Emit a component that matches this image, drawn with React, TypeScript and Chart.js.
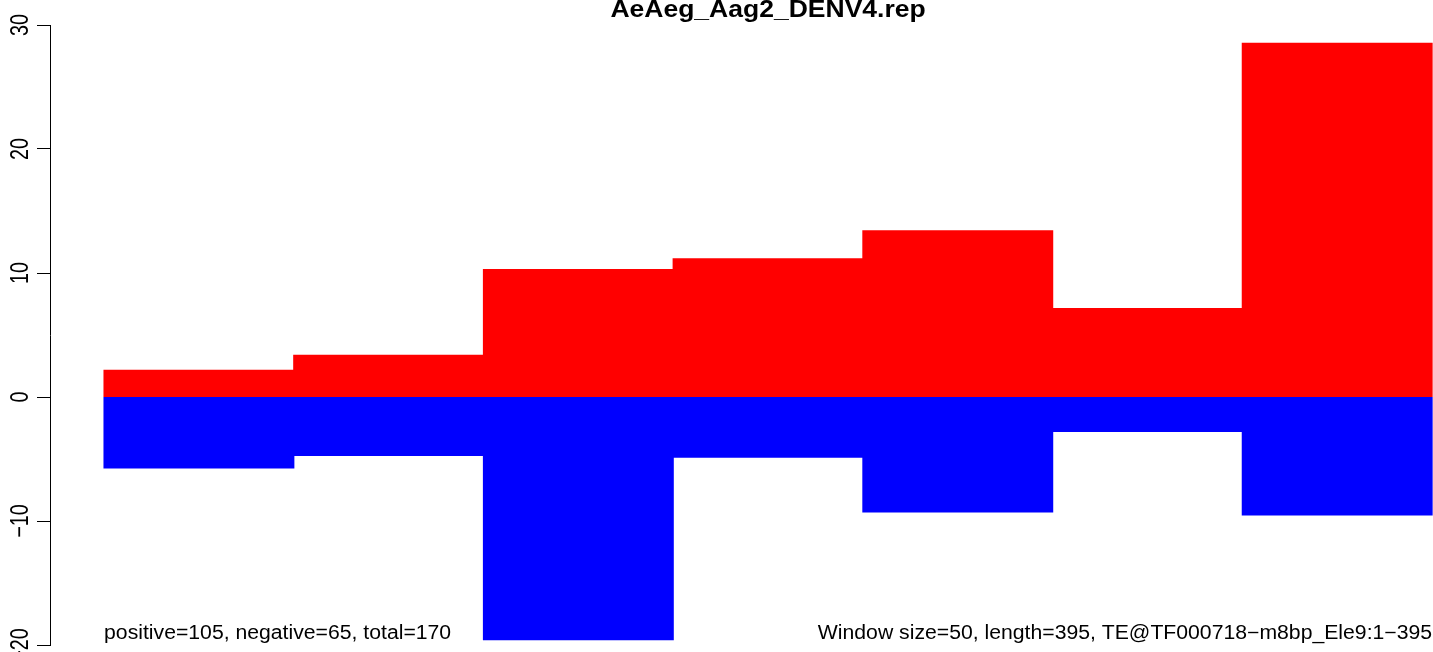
import React, { useEffect, useRef } from "react";
import { Chart, registerables } from "chart.js";

Chart.register(...registerables);

// Window index (bar centres) along the element
const windowCenters = [0.5, 1.5, 2.5, 3.5, 4.5, 5.5, 6.5];
// Positive-strand values per window
const positiveValues = [2.14, 3.35, 10.27, 11.15, 13.4, 7.13, 28.53];
// Negative-strand values per window
const negativeValues = [-5.72, -4.7, -19.56, -4.86, -9.26, -2.77, -9.5];
// Y-axis tick values and labels
const yTickValues = [30, 20, 10, 0, -10, -20];
const yTickLabels = ["30", "20", "10", "0", "\u221210", "\u221220"];

const titleText = "AeAeg_Aag2_DENV4.rep";
const leftNote = "positive=105, negative=65, total=170";
const rightNote = "Window size=50, length=395, TE@TF000718\u2212m8bp_Ele9:1\u2212395";

const FONT = '"Liberation Sans", Arial, Helvetica, sans-serif';
const SX = 1.087;

const textPlugin = {
  id: "rText",
  afterDraw(chart: any) {
    const ctx = chart.ctx;
    const xs = chart.scales.x;
    const ys = chart.scales.y;
    ctx.save();
    ctx.fillStyle = "#000";
    // title
    ctx.save();
    ctx.font = `bold 24.4px ${FONT}`;
    ctx.textAlign = "center";
    ctx.textBaseline = "alphabetic";
    ctx.translate(xs.getPixelForValue(3.5), 17);
    ctx.scale(SX, 1);
    ctx.fillText(titleText, 0, 0);
    ctx.restore();
    // notes
    const noteY = ys.getPixelForValue(-19.5);
    ctx.save();
    ctx.font = `19.5px ${FONT}`;
    ctx.textAlign = "left";
    ctx.translate(xs.getPixelForValue(0), noteY);
    ctx.scale(SX, 1);
    ctx.fillText(leftNote, 0, 0);
    ctx.restore();
    ctx.save();
    ctx.font = `19.5px ${FONT}`;
    ctx.textAlign = "right";
    ctx.translate(xs.getPixelForValue(7), noteY);
    ctx.scale(SX, 1);
    ctx.fillText(rightNote, 0, 0);
    ctx.restore();
    // y tick labels (rotated, R style)
    yTickValues.forEach((v, i) => {
      const y = ys.getPixelForValue(v);
      ctx.save();
      ctx.font = `19.8px ${FONT}`;
      ctx.textAlign = "center";
      ctx.textBaseline = "alphabetic";
      ctx.translate(28, y);
      ctx.rotate(-Math.PI / 2);
      ctx.scale(1, 1.3);
      ctx.fillText(yTickLabels[i], 0, 0);
      ctx.restore();
    });
    ctx.restore();
  },
};

export default function App() {
  const ref = useRef<HTMLCanvasElement | null>(null);
  useEffect(() => {
    if (!ref.current) return;
    const chart = new Chart(ref.current, {
      type: "bar",
      data: {
        datasets: [
          {
            label: "positive",
            data: windowCenters.map((x, i) => ({ x, y: positiveValues[i] })),
            backgroundColor: "#FF0000",
            borderWidth: 0,
            inflateAmount: 0.6,
            grouped: false,
            categoryPercentage: 1,
            barPercentage: 1,
          },
          {
            label: "negative",
            data: windowCenters.map((x, i) => ({ x, y: negativeValues[i] })),
            backgroundColor: "#0000FF",
            borderWidth: 0,
            inflateAmount: 0.6,
            grouped: false,
            categoryPercentage: 1,
            barPercentage: 1,
          },
        ] as any,
      },
      options: {
        responsive: false,
        maintainAspectRatio: false,
        animation: false,
        devicePixelRatio: 1,
        layout: { padding: { top: 25, bottom: 7, left: 0, right: 0 } },
        plugins: {
          legend: { display: false },
          title: { display: false },
          tooltip: { enabled: false },
        },
        scales: {
          x: {
            type: "linear",
            offset: false,
            min: -0.285,
            max: 7.005,
            display: false,
            grid: { offset: false },
            afterBuildTicks: (scale: any) => {
              scale.ticks = windowCenters.map((v) => ({ value: v }));
            },
          },
          y: {
            type: "linear",
            min: -20,
            max: 30,
            afterBuildTicks: (scale: any) => {
              scale.ticks = yTickValues.map((v) => ({ value: v }));
            },
            afterFit: (scale: any) => {
              scale.width = 50;
            },
            ticks: { display: false },
            grid: {
              drawOnChartArea: false,
              drawTicks: true,
              tickLength: 13,
              color: "#000",
              lineWidth: 1,
            },
            border: { display: true, color: "#000", width: 1 },
          },
        },
      } as any,
      plugins: [textPlugin],
    });
    return () => chart.destroy();
  }, []);
  return (
    <canvas
      ref={ref}
      width={1433}
      height={652}
      style={{ position: "absolute", left: 0, top: 0, width: 1433, height: 652, background: "#fff" }}
    />
  );
}
